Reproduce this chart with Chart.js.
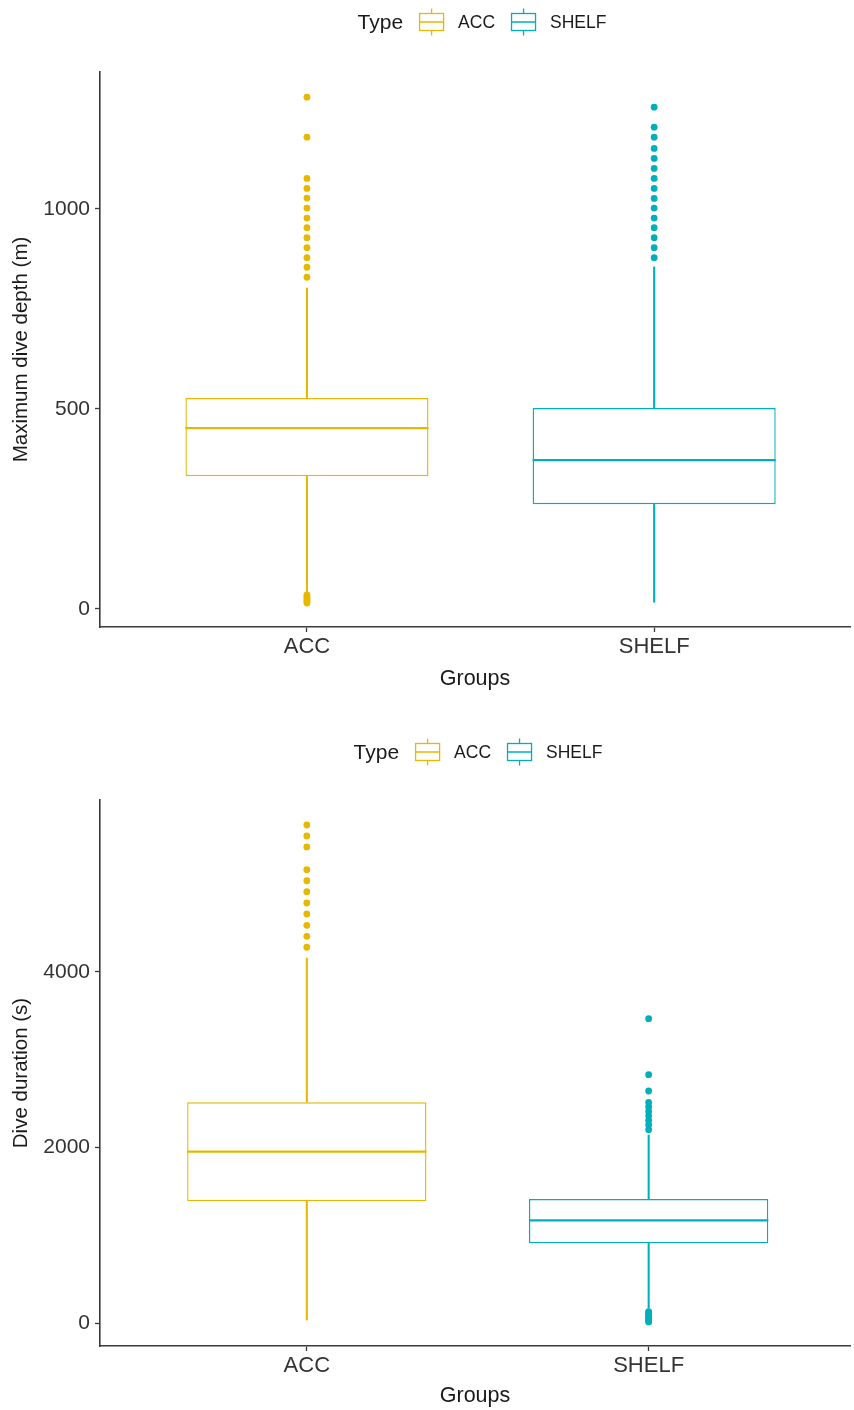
<!DOCTYPE html>
<html>
<head>
<meta charset="utf-8">
<script src="https://cdn.jsdelivr.net/npm/chart.js@4.4.1/dist/chart.umd.min.js"></script>
<style>
  html, body { margin: 0; padding: 0; background: #ffffff; }
  .panel { position: relative; width: 854px; height: 705px; }
  canvas { display: block; }
</style>
</head>
<body>
<div class="panel"><canvas id="depthChart" width="854" height="705"></canvas></div>
<div class="panel"><canvas id="durationChart" width="854" height="705"></canvas></div>
<script>
// Groups and colours
const groups = ['ACC', 'SHELF'];
const groupColors = ['#E7B800', '#00AFBB'];
const legendTitle = 'Type';
const xTitle = 'Groups';

// Maximum dive depth (m): box statistics per group
const depthLow    = [40, 17];
const depthQ1     = [332, 262];
const depthMedian = [452, 372];
const depthQ3     = [527, 502];
const depthHigh   = [802, 855];
const depthOutliersACC   = [1279, 1179, 1076, 1051, 1027, 1002, 977, 953, 928, 903, 878, 854, 829,
                            35, 31, 27, 23, 19, 15];
const depthOutliersSHELF = [1254, 1204, 1179, 1151, 1126, 1101, 1076, 1051, 1026, 1002, 977, 953,
                            928, 903, 878];
const depthTicks = [0, 500, 1000];

// Dive duration (s): box statistics per group
const durLow    = [34, 168];
const durQ1     = [1390, 908];
const durMedian = [1952, 1170];
const durQ3     = [2515, 1413];
const durHigh   = [4160, 2142];
const durOutliersACC   = [5675, 5550, 5425, 5166, 5040, 4915, 4786, 4661, 4532, 4407, 4282];
const durOutliersSHELF = [3468, 2830, 2644, 2515, 2465, 2413, 2362, 2310, 2260, 2203,
                          130, 115, 100, 85, 70, 55, 40, 25, 12];
const durTicks = [0, 2000, 4000];

const FONT = '"Liberation Sans", Arial, Helvetica, sans-serif';
const BOX_WIDTH = 0.7;   // in x-axis units (one unit between groups)
const AXIS_COLOR = '#3a3a3a';

// Legend drawn in the top band: "Type" followed by a box glyph per group
const typeLegend = {
  id: 'typeLegend',
  afterDraw(chart, args, opts) {
    const ctx = chart.ctx;
    ctx.save();
    ctx.textBaseline = 'middle';
    ctx.textAlign = 'left';
    ctx.font = `${opts.titleSize}px ${FONT}`;
    const titleW = ctx.measureText(opts.title).width;
    ctx.font = `${opts.labelSize}px ${FONT}`;
    const labelW = opts.labels.map(l => ctx.measureText(l).width);
    const glyphW = 25, glyphH = 17, stub = 5;
    const gapTitle = 16, gapGlyph = 14, gapItem = 16;
    let total = titleW + gapTitle;
    labelW.forEach((w, i) => { total += glyphW + gapGlyph + w + (i < labelW.length - 1 ? gapItem : 0); });
    let x = opts.centerX - total / 2;
    const y = opts.y;
    ctx.fillStyle = '#1a1a1a';
    ctx.font = `${opts.titleSize}px ${FONT}`;
    ctx.fillText(opts.title, x, y + 1);
    x += titleW + gapTitle;
    opts.labels.forEach((label, i) => {
      const c = opts.colors[i];
      ctx.strokeStyle = c;
      ctx.lineWidth = 1.3;
      const top = y - glyphH / 2, bot = y + glyphH / 2, mid = x + glyphW / 2;
      ctx.strokeRect(x + 0.5, top, glyphW - 1, glyphH);
      ctx.beginPath();
      ctx.moveTo(x + 0.5, y); ctx.lineTo(x + glyphW - 0.5, y);
      ctx.moveTo(mid, top - stub); ctx.lineTo(mid, top);
      ctx.moveTo(mid, bot); ctx.lineTo(mid, bot + stub);
      ctx.stroke();
      x += glyphW + gapGlyph;
      ctx.fillStyle = '#1a1a1a';
      ctx.font = `${opts.labelSize}px ${FONT}`;
      ctx.fillText(label, x, y + 1);
      x += labelW[i] + gapItem;
    });
    ctx.restore();
  }
};

function halfBoxPixels(chart) {
  const s = chart.scales.x;
  return (s.getPixelForValue(1 + BOX_WIDTH / 2) - s.getPixelForValue(1));
}

function buildChart(canvasId, cfg) {
  const pts = (vals) => groups.map((g, i) => ({ x: i + 1, y: vals(i) }));
  const datasets = [
    { // medians
      type: 'scatter', order: 0,
      data: pts(i => cfg.median[i]),
      pointStyle: 'line',
      pointBorderColor: groupColors, pointBackgroundColor: groupColors,
      pointBorderWidth: 2.3,
      pointRadius: ctx => halfBoxPixels(ctx.chart),
      pointHoverRadius: ctx => halfBoxPixels(ctx.chart),
      showLine: false
    },
    { // outliers, first group
      type: 'scatter', order: 1,
      data: cfg.outliers[0].map(v => ({ x: 1, y: v })),
      pointBackgroundColor: groupColors[0], pointBorderColor: groupColors[0],
      pointBorderWidth: 0, pointRadius: 3.4
    },
    { // outliers, second group
      type: 'scatter', order: 1,
      data: cfg.outliers[1].map(v => ({ x: 2, y: v })),
      pointBackgroundColor: groupColors[1], pointBorderColor: groupColors[1],
      pointBorderWidth: 0, pointRadius: 3.4
    },
    { // boxes (Q1 to Q3)
      type: 'bar', order: 2, grouped: false,
      data: pts(i => [cfg.q1[i], cfg.q3[i]]),
      backgroundColor: '#ffffff', borderColor: groupColors, borderWidth: 1.4,
      borderSkipped: false, categoryPercentage: 1, barPercentage: BOX_WIDTH
    },
    { // lower whiskers
      type: 'bar', order: 3, grouped: false,
      data: pts(i => [cfg.low[i], cfg.q1[i]]),
      backgroundColor: groupColors, borderWidth: 0, barThickness: 1.4
    },
    { // upper whiskers
      type: 'bar', order: 3, grouped: false,
      data: pts(i => [cfg.q3[i], cfg.high[i]]),
      backgroundColor: groupColors, borderWidth: 0, barThickness: 1.4
    }
  ];

  return new Chart(document.getElementById(canvasId), {
    type: 'scatter',
    data: { datasets },
    plugins: [typeLegend],
    options: {
      responsive: false,
      animation: false,
      events: [],
      layout: { padding: { top: cfg.padTop, right: 0, left: 0, bottom: 0 } },
      plugins: {
        legend: { display: false },
        tooltip: { enabled: false },
        typeLegend: {
          title: legendTitle, labels: groups, colors: groupColors,
          titleSize: 21, labelSize: 17.5, centerX: cfg.legendX, y: cfg.legendY
        }
      },
      scales: {
        x: {
          type: 'linear',
          min: cfg.xMin, max: cfg.xMax,
          offset: false,
          afterBuildTicks: s => { s.ticks = groups.map((g, i) => ({ value: i + 1 })); },
          afterFit: s => { s.height = cfg.xHeight; },
          ticks: {
            callback: v => groups[v - 1],
            font: { family: FONT, size: 22 }, color: '#333333', padding: 2,
            autoSkip: false, maxRotation: 0
          },
          grid: { drawOnChartArea: false, drawTicks: true, tickLength: 5, color: AXIS_COLOR, tickWidth: 1.3, offset: false },
          border: { display: true, color: AXIS_COLOR, width: 1.6 },
          title: {
            display: true, text: xTitle, color: '#1a1a1a',
            font: { family: FONT, size: 21.5 }, padding: { top: 0, bottom: cfg.xTitlePad }
          }
        },
        y: {
          type: 'linear',
          min: cfg.yMin, max: cfg.yMax,
          afterBuildTicks: s => { s.ticks = cfg.ticks.map(v => ({ value: v })); },
          afterFit: s => { s.width = 100; },
          ticks: {
            callback: v => String(v),
            font: { family: FONT, size: 21 }, color: '#333333', padding: 5
          },
          grid: { drawOnChartArea: false, drawTicks: true, tickLength: 5, color: AXIS_COLOR, tickWidth: 1.3 },
          border: { display: true, color: AXIS_COLOR, width: 1.6 },
          title: {
            display: true, text: cfg.yTitle, color: '#1a1a1a',
            font: { family: FONT, size: 20.5 }, padding: { top: 9, bottom: 0 }
          }
        }
      }
    }
  });
}

buildChart('depthChart', {
  low: depthLow, q1: depthQ1, median: depthMedian, q3: depthQ3, high: depthHigh,
  outliers: [depthOutliersACC, depthOutliersSHELF], ticks: depthTicks,
  yTitle: 'Maximum dive depth (m)',
  yMin: -45, yMax: 1342, xMin: 0.404, xMax: 2.564,
  padTop: 72, xHeight: 78, xTitlePad: 13, legendX: 482, legendY: 22
});

buildChart('durationChart', {
  low: durLow, q1: durQ1, median: durMedian, q3: durQ3, high: durHigh,
  outliers: [durOutliersACC, durOutliersSHELF], ticks: durTicks,
  yTitle: 'Dive duration (s)',
  yMin: -262, yMax: 5960, xMin: 0.395, xMax: 2.589,
  padTop: 95, xHeight: 64, xTitlePad: 1, legendX: 478, legendY: 47
});
</script>
</body>
</html>
